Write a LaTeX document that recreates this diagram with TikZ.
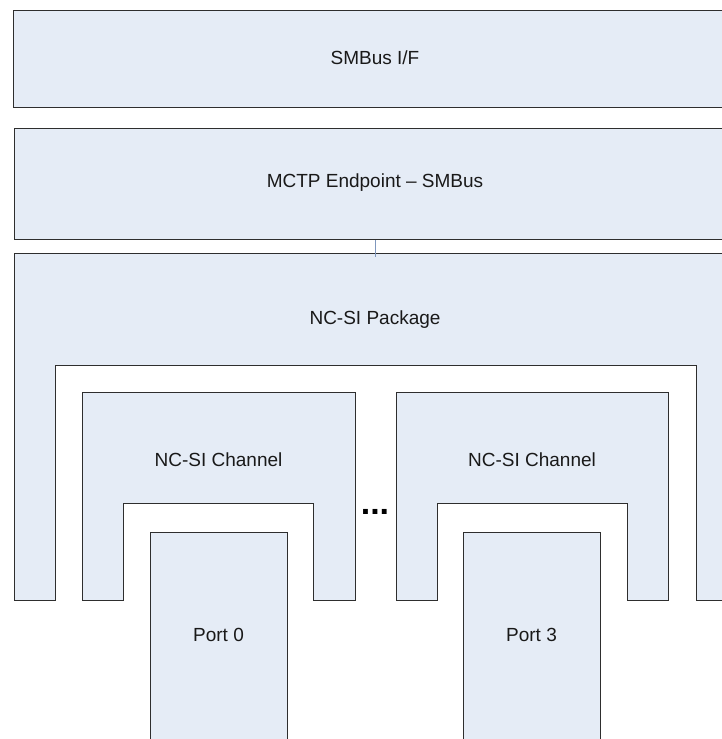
\documentclass[tikz,border=0pt]{standalone}
\usepackage{fontspec}
\setmainfont{Liberation Sans}
\begin{document}
\begin{tikzpicture}[x=1pt,y=-1pt,
  blk/.style={fill=boxfill,draw=edge,line width=1pt},
  lbl/.style={font=\fontsize{19}{22}\selectfont,text=black!90,inner sep=0pt},
  link/.style={draw=linkc,line width=1pt}]
\definecolor{boxfill}{HTML}{E5ECF6}
\definecolor{edge}{HTML}{2E2E2E}
\definecolor{linkc}{HTML}{7F97BD}
\useasboundingbox (0,0) rectangle (722,739);
\clip (0,0) rectangle (722,739);
% SMBus I/F
\node[blk,rectangle,anchor=north west,minimum width=723pt,minimum height=97pt,inner sep=0pt] (smbus) at (13,10) {};
\node[lbl] (smbustxt) at (375,58) {SMBus I/F};
% MCTP
\node[blk,rectangle,anchor=north west,minimum width=722pt,minimum height=111pt,inner sep=0pt] (mctp) at (14,128) {};
\node[lbl] (mctptxt) at (375,183) {MCTP Endpoint – SMBus};
% NC-SI Package
\draw[blk] (14,253) -- (736,253) -- (736,600) -- (696,600) -- (696,365) -- (55,365) -- (55,600) -- (14,600) -- cycle;
\coordinate (pkgtop) at (375,253);
\node[lbl] (pkgtxt) at (375,320) {NC-SI Package};
% connector
\draw[link] (mctp.south -| pkgtop) -- ([yshift=-4pt]pkgtop);
% Channels
\draw[blk] (82,392) -- (355,392) -- (355,600) -- (313,600) -- (313,503) -- (123,503) -- (123,600) -- (82,600) -- cycle;
\node[lbl] (ch1) at (218.5,460) {NC-SI Channel};
\draw[blk] (396,392) -- (668,392) -- (668,600) -- (627,600) -- (627,503) -- (437,503) -- (437,600) -- (396,600) -- cycle;
\node[lbl] (ch2) at (532,460) {NC-SI Channel};
% ellipsis
\node[inner sep=0pt,font=\fontsize{34}{34}\selectfont\bfseries] (dots) at (375,512) {...};
% Ports
\node[blk,rectangle,anchor=north west,minimum width=137pt,minimum height=220pt,inner sep=0pt] (p0) at (150,532) {};
\node[lbl] (p0txt) at (218.5,635) {Port 0};
\node[blk,rectangle,anchor=north west,minimum width=137pt,minimum height=220pt,inner sep=0pt] (p3) at (463,532) {};
\node[lbl] (p3txt) at (531.5,635) {Port 3};
\end{tikzpicture}
\end{document}
